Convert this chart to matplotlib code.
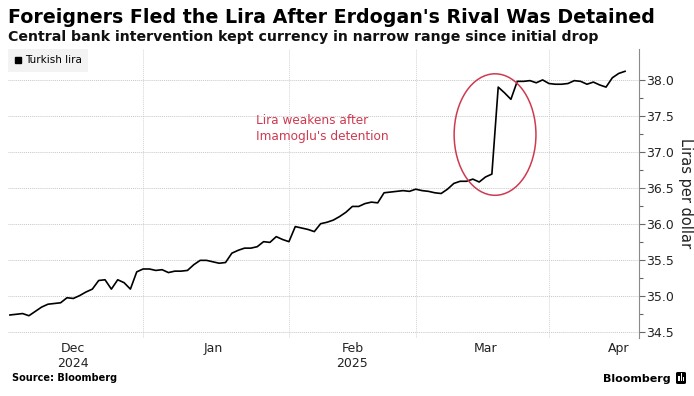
import matplotlib
matplotlib.use("Agg")
import matplotlib.pyplot as plt
from matplotlib.patches import Ellipse, FancyBboxPatch, Rectangle
from matplotlib.lines import Line2D
import numpy as np
import pandas as pd

# trading days, evenly spaced on the x axis
dates = pd.bdate_range("2024-12-02", "2025-04-16")
lira = [
    34.73, 34.74, 34.75, 34.72, 34.78, 34.84, 34.88, 34.89, 34.90, 34.97,
    34.96, 35.00, 35.05, 35.09, 35.21, 35.22, 35.09, 35.22, 35.18, 35.09,
    35.33, 35.37, 35.37, 35.35, 35.36, 35.32, 35.34, 35.34, 35.35, 35.43,
    35.49, 35.49, 35.47, 35.45, 35.46, 35.59, 35.63, 35.66, 35.66, 35.68,
    35.75, 35.74, 35.82, 35.78, 35.75, 35.96, 35.94, 35.92, 35.89, 36.00,
    36.02, 36.05, 36.10, 36.16, 36.24, 36.24, 36.28, 36.30, 36.29, 36.43,
    36.44, 36.45, 36.46, 36.45, 36.48, 36.46, 36.45, 36.43, 36.42, 36.48,
    36.56, 36.59, 36.59, 36.62, 36.58, 36.65, 36.69, 37.90, 37.82, 37.73,
    37.98, 37.98, 37.99, 37.96, 38.00, 37.95, 37.94, 37.94, 37.95, 37.99,
    37.98, 37.94, 37.97, 37.93, 37.90, 38.03, 38.09, 38.12,
]
month_labels = ["Dec\n2024", "Jan", "Feb\n2025", "Mar", "Apr"]
label_days = ["2024-12-16", "2025-01-15", "2025-02-14", "2025-03-17", "2025-04-15"]
grid_days = ["2024-12-31", "2025-01-31", "2025-02-28", "2025-03-31"]
y_ticks = [34.5, 35.0, 35.5, 36.0, 36.5, 37.0, 37.5, 38.0]

W, H = 694, 396
RED = "#cf3a50"

x = np.arange(len(dates))
label_pos = dates.searchsorted(pd.to_datetime(label_days))
grid_pos = dates.searchsorted(pd.to_datetime(grid_days))

fig = plt.figure(figsize=(W / 100, H / 100), dpi=100)
ax = fig.add_axes([8 / W, 1 - 338 / H, (639 - 8) / W, (338 - 49) / H])

ax.plot(x, lira, color="black", lw=1.2, zorder=3)
ax.set_xlim(-0.3, 99.2)
ax.set_ylim(34.41, 38.43)

for s in ["left", "top", "bottom"]:
    ax.spines[s].set_visible(False)
ax.spines["right"].set_color("#8a8a8a")
ax.spines["right"].set_linewidth(0.8)

ax.yaxis.tick_right()
ax.yaxis.set_label_position("right")
ax.set_yticks(y_ticks, [f"{v:.1f}" for v in y_ticks])
ax.set_yticks(np.array(y_ticks[:-1]) + 0.25, minor=True)
ax.tick_params(axis="y", which="major", length=4, width=0.8, color="#666666",
               labelsize=9, pad=1, labelcolor="#222222")
ax.tick_params(axis="y", which="minor", length=3, width=0.8, color="#666666")
ax.set_ylabel("Liras per dollar", rotation=270, fontsize=10.5, labelpad=14, color="#222222")

ax.set_xticks(label_pos, month_labels)
ax.tick_params(axis="x", length=0, labelsize=9, pad=3, labelcolor="#222222")

ax.grid(axis="y", linestyle=(0, (1, 1)), color="#c8c8c8", lw=0.7)
for g in grid_pos:
    ax.axvline(g, linestyle=(0, (1, 1)), color="#d4d4d4", lw=0.7, zorder=1)

ax.add_patch(Ellipse((76.5, 37.24), width=12.9, height=1.69, fill=False,
                     edgecolor=RED, lw=1.1, zorder=4))
ax.text(38.8, 37.53, "Lira weakens after\nImamoglu's detention", color=RED,
        fontsize=8.7, va="top", ha="left", linespacing=1.35)

handle = Line2D([], [], marker="s", color="black", linestyle="none", markersize=5)
leg = ax.legend([handle], ["Turkish lira"], loc="upper left", bbox_to_anchor=(0, 1),
                borderaxespad=0, frameon=True, fontsize=7.5, handletextpad=0.2,
                handlelength=0.8, borderpad=0.6, fancybox=False)
leg.get_frame().set_facecolor("#f0f0f0")
leg.get_frame().set_edgecolor("none")

title = fig.text(8 / W, 1 - 23 / H, "Foreigners Fled the Lira After Erdogan's Rival Was Detained",
                 fontsize=14, fontweight="bold", va="baseline", ha="left")
sub = fig.text(8 / W, 1 - 41 / H, "Central bank intervention kept currency in narrow range since initial drop",
               fontsize=10, fontweight="bold", va="baseline", ha="left", color="#111111")
src = fig.text(12 / W, 1 - 381 / H, "Source: Bloomberg", fontsize=7.5, fontweight="bold",
               va="baseline", ha="left")
brand = fig.text(671 / W, 1 - 382 / H, "Bloomberg", fontsize=10, fontweight="bold",
                 va="baseline", ha="right")

# squeeze texts to the widths measured on the reference
renderer = fig.canvas.get_renderer()
for t, target in [(title, 648), (sub, 592), (src, 105), (brand, 68)]:
    bb = t.get_window_extent(renderer)
    t.set_fontsize(t.get_fontsize() * target / bb.width)

# small logo box next to the wordmark
fig.patches.append(FancyBboxPatch((676 / W, 1 - 384 / H), 10 / W, 12 / H,
                                  boxstyle="round,pad=0,rounding_size=0.003",
                                  transform=fig.transFigure, facecolor="black",
                                  edgecolor="none"))
for bx, bh in [(678.3, 5), (680.6, 8), (682.9, 4)]:
    fig.patches.append(Rectangle((bx / W, 1 - 381 / H), 1.3 / W, bh / H,
                                 transform=fig.transFigure, facecolor="white",
                                 edgecolor="none"))

fig.savefig("out.png", dpi=100)
